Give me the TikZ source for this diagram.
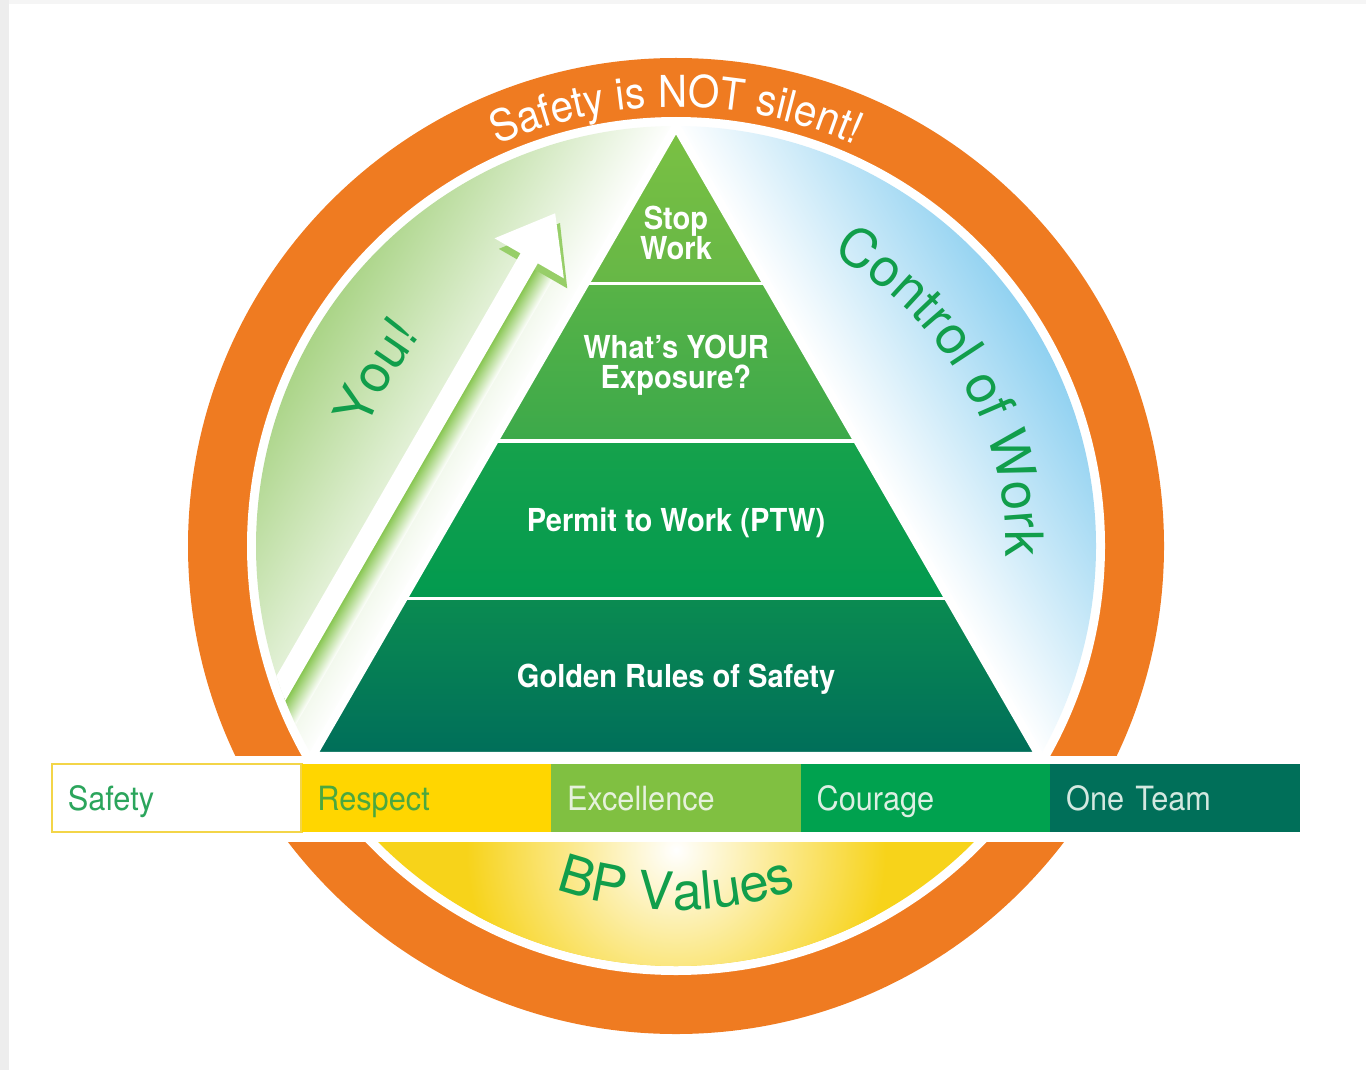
\documentclass[tikz,border=0pt]{standalone}
\usepackage{fontspec}
\setmainfont{TeX Gyre Heros}
\newfontfamily\condfont[FakeStretch=0.92]{TeX Gyre Heros}
\usetikzlibrary{calc,decorations.text}

\definecolor{ringorange}{HTML}{EF7B21}
\definecolor{yougreen}{HTML}{A6D281}
\definecolor{cowblue}{HTML}{8BCFF0}
\definecolor{bpyellow}{HTML}{F7D31A}
\definecolor{arrowgreen}{HTML}{7DC142}
\definecolor{textgreen}{HTML}{119E4B}
\definecolor{stopA}{HTML}{7BC143}
\definecolor{stopB}{HTML}{66B746}
\definecolor{expoA}{HTML}{58B347}
\definecolor{expoB}{HTML}{3CA94A}
\definecolor{ptwA}{HTML}{16A24C}
\definecolor{ptwB}{HTML}{029A4F}
\definecolor{goldA}{HTML}{0A8B51}
\definecolor{goldB}{HTML}{006E5A}
\definecolor{safetyline}{HTML}{F3D548}
\definecolor{safetytext}{HTML}{2BA55C}
\definecolor{respectfill}{HTML}{FFD600}
\definecolor{respecttext}{HTML}{4BA83F}
\definecolor{excelfill}{HTML}{80C041}
\definecolor{exceltext}{HTML}{E6F1DC}
\definecolor{couragefill}{HTML}{00A24F}
\definecolor{couragetext}{HTML}{DCEFE3}
\definecolor{teamfill}{HTML}{006F59}
\definecolor{teamtext}{HTML}{D3E8E0}

\begin{document}
\begin{tikzpicture}[
    tier/.style={font=\condfont\bfseries\fontsize{9}{8.6}\selectfont, text=white, align=center},
    valbox/.style={anchor=south west, minimum width=2.496cm, minimum height=0.68cm,
      inner sep=0pt, outer sep=0pt, text width=2.18cm, align=left,
      text height=0.94em, text depth=0.22em,
      font=\condfont\fontsize{9.5}{10}\selectfont}]

  \useasboundingbox (0,0) rectangle (13.66,10.70);
  \fill[black!7] (0,0) rectangle (0.09,10.70);
  \fill[black!4] (0.09,10.66) rectangle (13.66,10.70);

  \coordinate (c) at (6.76,5.24);
  \coordinate (apex) at ($(c)+(90:4.2)$);
  \coordinate (bl) at ($(c)+(210:4.2)$);
  \coordinate (br) at ($(c)+(330:4.2)$);

  % Orange ring
  \fill[ringorange] (c) circle (4.88);
  \fill[white] (c) circle (4.29);

  % You! side with the arrow
  \begin{scope}
    \clip (c) circle (4.2);
    \begin{scope}[transform canvas={shift={(6.76,9.44)}, rotate=60}]
      \shade[bottom color=white, top color=yougreen] (-9,0) rectangle (1,2.2);
      \shade[bottom color=white, top color=arrowgreen] (-9,0.3) rectangle (-1.86,0.53);
      \fill[arrowgreen!80] (-1.95,0.13) -- (-1.42,0.52) -- (-1.95,0.92) -- cycle;
      \fill[white] (-9,0.51) -- (-1.88,0.51) -- (-1.88,0.21) -- (-1.36,0.61)
        -- (-1.88,1.01) -- (-1.88,0.71) -- (-9,0.71) -- cycle;
    \end{scope}
  \end{scope}

  % Control of Work side
  \begin{scope}
    \clip (c) circle (4.2);
    \begin{scope}[transform canvas={shift={(6.76,9.44)}, rotate=-60}]
      \shade[bottom color=white, top color=cowblue] (-1,0) rectangle (9,2.2);
    \end{scope}
  \end{scope}

  % BP Values side
  \begin{scope}
    \clip (c) circle (4.2);
    \clip (1,0) rectangle (12.5,3.14);
    \fill[bpyellow] (1,0) rectangle (12.5,3.14);
    \shade[inner color=white, outer color=bpyellow] (6.76,2.2) circle (2.1);
  \end{scope}

  % Pyramid
  \foreach \f/\g/\ctop/\cbot in {0/0.25/stopA/stopB, 0.25/0.5/expoA/expoB,
      0.5/0.75/ptwA/ptwB, 0.75/1/goldA/goldB}
    \shade[top color=\ctop, bottom color=\cbot] ($(apex)!\f!(bl)$) -- ($(apex)!\f!(br)$)
      -- ($(apex)!\g!(br)$) -- ($(apex)!\g!(bl)$) -- cycle;
  \foreach \f in {0.25,0.5,0.75}
    \draw[white, line width=1pt] ($(apex)!\f!(bl)$) -- ($(apex)!\f!(br)$);
  \draw[white, line width=2.4pt] (apex) -- (br) -- (bl) -- cycle;

  \node[tier] (stop) at (6.76,8.37) {Stop\\Work};
  \node[tier] (exposure) at (6.76,7.05) {What’s YOUR\\Exposure?};
  \node[tier] (ptw) at (6.76,5.47) {Permit to Work (PTW)};
  \node[tier] (golden) at (6.76,3.91) {Golden Rules of Safety};

  % Values bar
  \fill[white] (1.6,2.28) rectangle (11.9,3.14);
  \node[valbox, fill=white, draw=safetyline, line width=0.8pt, text=safetytext] (safety) at (0.52,2.38) {Safety};
  \node[valbox, fill=respectfill, text=respecttext] (respect) at (3.016,2.38) {Respect};
  \node[valbox, fill=excelfill, text=exceltext] (excellence) at (5.512,2.38) {Excellence};
  \node[valbox, fill=couragefill, text=couragetext] (courage) at (8.008,2.38) {Courage};
  \node[valbox, fill=teamfill, text=teamtext] (oneteam) at (10.504,2.38) {One Team};

  % Curved labels
  \path[decorate, decoration={text along path, text align=center, text color=white,
      text={|\condfont\fontsize{12.5}{14}\selectfont|Safety is NOT silent!}}]
    ($(c)+(150:4.39)$) arc[start angle=150, end angle=30, radius=4.39];
  \path[decorate, decoration={text along path, text align=center, text color=textgreen,
      text={|\fontsize{15}{17}\selectfont|Control of Work}}]
    ($(c)+(75:3.30)$) arc[start angle=75, end angle=-15, radius=3.30];
  \path[decorate, decoration={text along path, text align=center, text color=textgreen,
      text={|\fontsize{15}{17}\selectfont|You!}}]
    ($(c)+(180:3.30)$) arc[start angle=180, end angle=120, radius=3.30];
  \path[decorate, decoration={text along path, text align=center, text color=textgreen,
      text={|\fontsize{15}{17}\selectfont|BP Values}}]
    ($(c)+(235:3.64)$) arc[start angle=235, end angle=305, radius=3.64];
\end{tikzpicture}
\end{document}
